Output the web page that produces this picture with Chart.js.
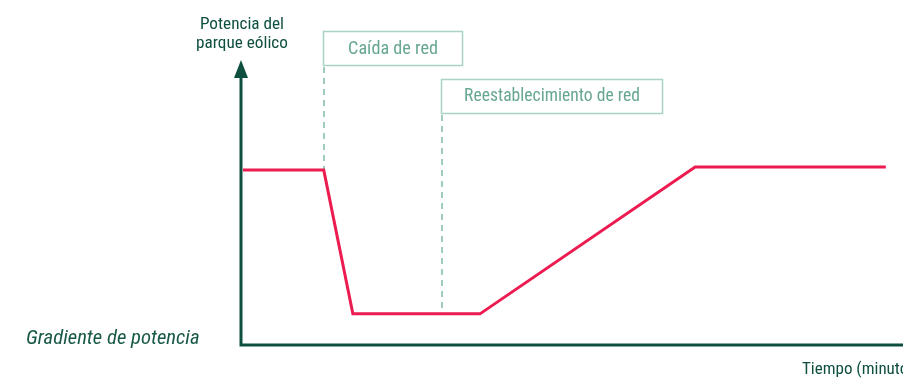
<!DOCTYPE html>
<html>
<head>
<meta charset="utf-8">
<script src="https://cdn.jsdelivr.net/npm/chart.js@4/dist/chart.umd.min.js"></script>
<style>
html,body{margin:0;padding:0;background:#fff;}
#wrap{width:903px;height:379px;position:relative;}
</style>
</head>
<body>
<div id="wrap"><canvas id="c" width="903" height="379"></canvas></div>
<script>
// Data (arbitrary units)
const timeValues = [0.3, 12.5, 16.9, 36.1, 68.6, 97.4];
const powerValues = [61.8, 61.8, 11, 11, 62.9, 62.9];
const eventTimes = [12.5, 30.4];
const eventPower = [61.8, 11];
const eventLabels = ['Caída de red', 'Reestablecimiento de red'];
const yAxisLabel = ['Potencia del', 'parque eólico'];
const xAxisLabel = 'Tiempo (minutos)';
const gradientLabel = 'Gradiente de potencia';

const FONT = "'Liberation Sans Narrow', 'Roboto Condensed', 'Arial Narrow', Arial, sans-serif";
const DARK = '#0e4f40';
const RED = '#ec1b50';
const GTEXT = '#67a692';
const GBORDER = '#a9d3c7';
const GDASH = '#9fcbbe';

const boxWidths = [139, 221];
const boxTops = [31, 79];
const boxH = 34;
const labelSizes = [18.2, 17.6];

const overlay = {
  id: 'overlay',
  beforeDatasetsDraw(chart) {
    const {ctx, scales: {x, y}} = chart;
    ctx.save();
    eventTimes.forEach((t, i) => {
      const px = Math.round(x.getPixelForValue(t));
      const py = y.getPixelForValue(eventPower[i]);
      ctx.strokeStyle = GDASH;
      ctx.lineWidth = 2;
      ctx.setLineDash([6, 5]);
      ctx.beginPath();
      ctx.moveTo(px, boxTops[i] + boxH + 2);
      ctx.lineTo(px, py);
      ctx.stroke();
      ctx.setLineDash([]);
      ctx.strokeStyle = GBORDER;
      ctx.lineWidth = 1.5;
      const bx = px - 1;
      ctx.strokeRect(bx + 0.5, boxTops[i] + 0.5, boxWidths[i], boxH);
      ctx.fillStyle = GTEXT;
      ctx.font = labelSizes[i] + 'px ' + FONT;
      ctx.textAlign = 'center';
      ctx.textBaseline = 'middle';
      ctx.fillText(eventLabels[i], bx + boxWidths[i] / 2 + 0.5, boxTops[i] + boxH / 2 + 1);
    });
    ctx.restore();
  },
  afterDraw(chart) {
    const {ctx, chartArea: a} = chart;
    ctx.save();
    ctx.strokeStyle = DARK;
    ctx.lineWidth = 3;
    ctx.beginPath();
    ctx.moveTo(a.left, a.top + 14);
    ctx.lineTo(a.left, a.bottom);
    ctx.lineTo(a.right, a.bottom);
    ctx.stroke();
    ctx.fillStyle = DARK;
    ctx.beginPath();
    ctx.moveTo(a.left, a.top - 2);
    ctx.lineTo(a.left - 7, a.top + 16);
    ctx.lineTo(a.left + 7, a.top + 16);
    ctx.closePath();
    ctx.fill();
    ctx.fillStyle = DARK;
    ctx.font = '17.2px ' + FONT;
    ctx.textAlign = 'center';
    ctx.textBaseline = 'middle';
    ctx.fillText(yAxisLabel[0], a.left + 1, 25);
    ctx.fillText(yAxisLabel[1], a.left + 1, 44);
    ctx.textAlign = 'left';
    ctx.font = '17px ' + FONT;
    ctx.fillText(xAxisLabel, 802, 370);
    ctx.font = 'italic 20.7px ' + FONT;
    ctx.fillStyle = '#175846';
    ctx.fillText(gradientLabel, 26, 339);
    ctx.restore();
  }
};

new Chart(document.getElementById('c'), {
  type: 'line',
  data: {
    datasets: [{
      data: timeValues.map((t, i) => ({x: t, y: powerValues[i]})),
      borderColor: RED,
      borderWidth: 3,
      pointRadius: 0,
      tension: 0,
      fill: false
    }]
  },
  options: {
    responsive: false,
    animation: false,
    layout: {padding: {left: 241, right: 0, top: 62, bottom: 34}},
    plugins: {legend: {display: false}, tooltip: {enabled: false}},
    scales: {
      x: {type: 'linear', min: 0, max: 100, display: false},
      y: {type: 'linear', min: 0, max: 100, display: false}
    }
  },
  plugins: [overlay]
});
</script>
</body>
</html>
